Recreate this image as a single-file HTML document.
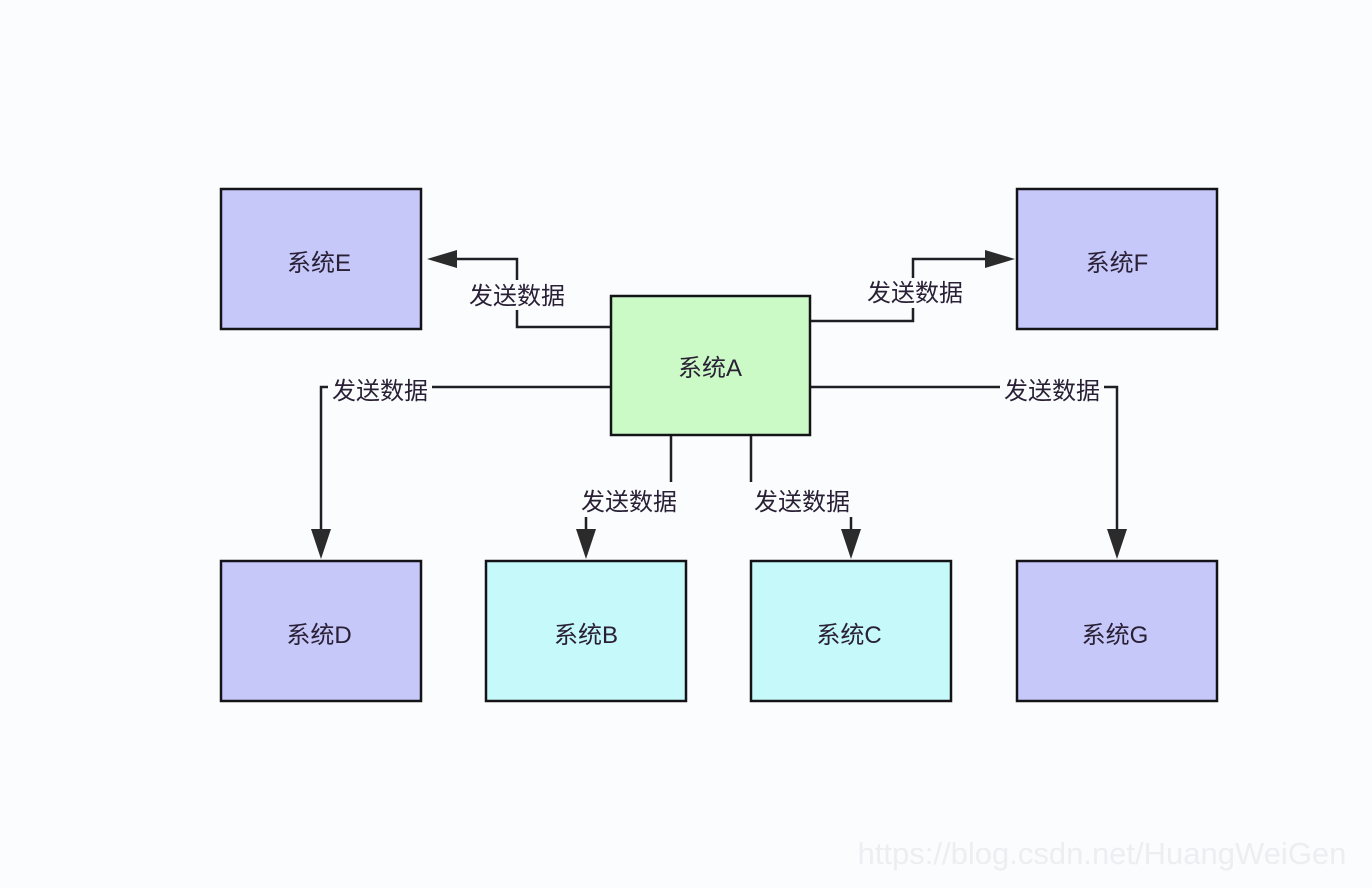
<!DOCTYPE html>
<html><head><meta charset="utf-8"><style>
html,body{margin:0;padding:0;background:#fafcfe;}
svg{display:block}
text{font-family:"Liberation Sans","Noto Sans CJK SC",sans-serif;font-size:24px;fill:#2a2035;}
</style></head><body>
<svg width="1372" height="888" viewBox="0 0 1372 888" xmlns="http://www.w3.org/2000/svg">
<g stroke="#1e1e24" stroke-width="2.5" fill="none">
<polyline points="611,327 517,327 517,310"/>
<polyline points="517,280 517,259 450,259"/>
<polyline points="810,321 913,321 913,308"/>
<polyline points="913,278 913,259 990,259"/>
<polyline points="611,387 432,387"/>
<polyline points="328,387 321,387 321,535"/>
<polyline points="810,387 1000,387"/>
<polyline points="1104,387 1117,387 1117,535"/>
<polyline points="671,435 671,482"/>
<polyline points="586,517 586,535"/>
<polyline points="751,435 751,482"/>
<polyline points="851,517 851,535"/>
</g>
<g fill="#2b2b2b">
<polygon points="427,259 457,250 457,268"/>
<polygon points="1015,259 985,250 985,268"/>
<polygon points="321,559 311,529 331,529"/>
<polygon points="1117,559 1107,529 1127,529"/>
<polygon points="586,559 576,529 596,529"/>
<polygon points="851,559 841,529 861,529"/>
</g>
<g stroke="#141418" stroke-width="2.5">
<rect x="221" y="189" width="200" height="140" fill="#c6c8fa"/>
<rect x="1017" y="189" width="200" height="140" fill="#c6c8fa"/>
<rect x="611" y="296" width="199" height="139" fill="#ccfac6"/>
<rect x="221" y="561" width="200" height="140" fill="#c6c8fa"/>
<rect x="486" y="561" width="200" height="140" fill="#c6fafa"/>
<rect x="751" y="561" width="200" height="140" fill="#c6fafa"/>
<rect x="1017" y="561" width="200" height="140" fill="#c6c8fa"/>
</g>
<g text-anchor="middle">
<text x="319" y="271">系统E</text>
<text x="1117" y="271">系统F</text>
<text x="710" y="376">系统A</text>
<text x="319" y="643">系统D</text>
<text x="586" y="643">系统B</text>
<text x="849" y="643">系统C</text>
<text x="1115" y="643">系统G</text>
<text x="517" y="304">发送数据</text>
<text x="915" y="301">发送数据</text>
<text x="380" y="399">发送数据</text>
<text x="1052" y="399">发送数据</text>
<text x="629" y="510">发送数据</text>
<text x="802" y="510">发送数据</text>
</g>
<text x="1102" y="864" text-anchor="middle" style="font-size:31px;fill:#eceef2">https://blog.csdn.net/HuangWeiGen</text>
</svg>
</body></html>
